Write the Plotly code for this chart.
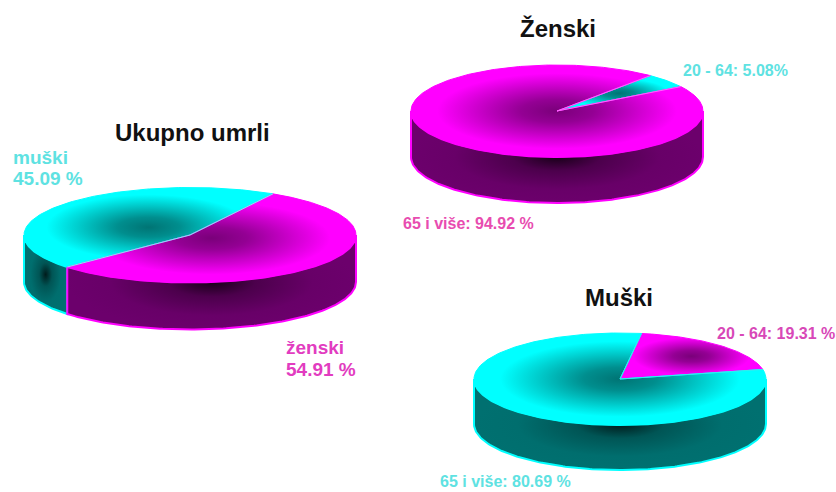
import numpy as np
import plotly.graph_objects as go

# --- data ---
total_labels = ["muški", "ženski"]
total_values = [45.09, 54.91]
female_labels = ["20 - 64", "65 i više"]
female_values = [5.08, 94.92]
male_labels = ["20 - 64", "65 i više"]
male_values = [19.31, 80.69]
titles = ["Ukupno umrli", "Ženski", "Muški"]

# --- styling / layout ---
W, H = 836, 492
CYAN = dict(top=[[0, "#007474"], [0.25, "#008e8e"], [0.82, "#00ffff"], [1, "#00ffff"]],
            wall=[[0, "#001c1c"], [0.3, "#005555"], [0.7, "#006e6e"], [1, "#007070"]],
            edge="#00ffff")
MAG = dict(top=[[0, "#7a007a"], [0.25, "#940094"], [0.82, "#ff00ff"], [1, "#ff00ff"]],
           wall=[[0, "#180018"], [0.3, "#4c004c"], [0.7, "#680068"], [1, "#6c006c"]],
           edge="#ff00ff")
PIES = [
    dict(labels=total_labels, values=total_values, cx=190, cy=235, rx=166, ry=47.5, depth=47,
         start=60, styles=[CYAN, MAG], divider="#7ff0f0"),
    dict(labels=female_labels, values=female_values, cx=557, cy=111, rx=146, ry=46, depth=46,
         start=32, styles=[CYAN, MAG], divider="#ff66ff"),
    dict(labels=male_labels, values=male_values, cx=620, cy=379, rx=146, ry=46, depth=45,
         start=12, styles=[MAG, CYAN], divider="#33eeee"),
]


def arc(p, a, b, dy=0.0):
    t = np.radians(np.linspace(a, b, max(int(abs(b - a)), 2) + 1))
    return p["cx"] + p["rx"] * np.cos(t), p["cy"] - p["ry"] * np.sin(t) + dy


fig = go.Figure()
for p in PIES:
    spans = []
    a = p["start"]
    for v in p["values"]:
        b = a + 360.0 * v / sum(p["values"])
        spans.append((a, b))
        a = b
    # side walls (only the part of each slice facing the viewer)
    for (a, b), st, lab in zip(spans, p["styles"], p["labels"]):
        lo, hi = max(a, 180), min(b, 360)
        if hi <= lo:
            continue
        xt, yt = arc(p, lo, hi)
        xb, yb = arc(p, hi, lo, p["depth"])
        fig.add_trace(go.Scatter(
            x=np.r_[xt, xb, xt[0]], y=np.r_[yt, yb, yt[0]], mode="lines", fill="toself",
            line=dict(color=st["edge"], width=2), name=lab,
            fillgradient=dict(type="radial", colorscale=st["wall"]),
        ))
    # top faces
    for (a, b), st, lab in zip(spans, p["styles"], p["labels"]):
        xt, yt = arc(p, a, b)
        fig.add_trace(go.Scatter(
            x=np.r_[p["cx"], xt, p["cx"]], y=np.r_[p["cy"], yt, p["cy"]], mode="lines", fill="toself",
            line=dict(color=st["edge"], width=1), name=lab,
            fillgradient=dict(type="radial", colorscale=st["top"]),
        ))
    # slice borders on the top face
    for a in (spans[0][0], spans[1][0]):
        xt, yt = arc(p, a, a + 0.001)
        fig.add_trace(go.Scatter(x=[p["cx"], xt[0]], y=[p["cy"], yt[0]], mode="lines",
                                 line=dict(color=p["divider"], width=1)))

BLUE_T, PINK_T = "#5ee2e2", "#e23cc0"
notes = [
    (115, 132, titles[0], 24, "#111111"),
    (520, 28, titles[1], 24, "#111111"),
    (585, 297, titles[2], 24, "#111111"),
    (13, 157, total_labels[0], 19, BLUE_T),
    (13, 178, f"{total_values[0]:.2f} %", 19, BLUE_T),
    (286, 347, total_labels[1], 19, PINK_T),
    (286, 369, f"{total_values[1]:.2f} %", 19, PINK_T),
    (683, 70, f"{female_labels[0]}: {female_values[0]:.2f}%", 16, BLUE_T),
    (403, 223, f"{female_labels[1]}: {female_values[1]:.2f} %", 16, "#e84cb0"),
    (717, 333, f"{male_labels[0]}: {male_values[0]:.2f} %", 16, "#d848b8"),
    (440, 481, f"{male_labels[1]}: {male_values[1]:.2f} %", 16, BLUE_T),
]
for x, y, t, s, c in notes:
    fig.add_annotation(x=x, y=y, text=f"<b>{t}</b>", showarrow=False, xanchor="left",
                       yanchor="middle", xshift=-2,
                       font=dict(family="Liberation Sans", size=s, color=c))

fig.update_layout(
    width=W, height=H, margin=dict(l=0, r=0, t=0, b=0), showlegend=False,
    paper_bgcolor="white", plot_bgcolor="white", hovermode=False,
    xaxis=dict(range=[0, W], visible=False, fixedrange=True),
    yaxis=dict(range=[H, 0], visible=False, fixedrange=True),
)
fig.write_html("out.html", config={"displayModeBar": False},
               post_script="document.body.style.margin='0';")
